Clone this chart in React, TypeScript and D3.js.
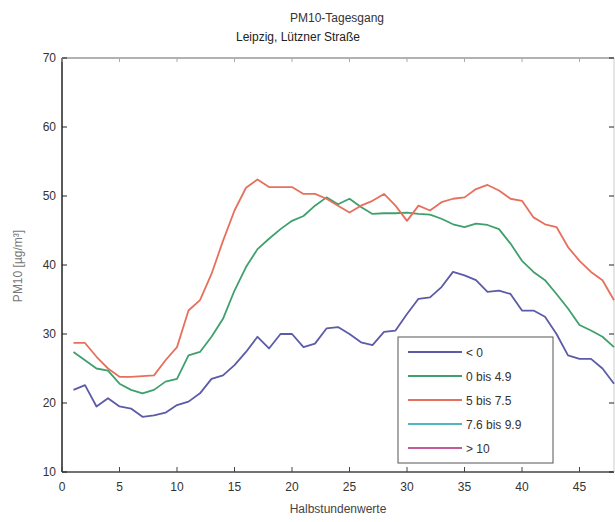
import React from "react";
import * as d3 from "d3";

const halfHours = d3.range(1, 49);
const seriesLt0 = [21.9,22.6,19.5,20.7,19.5,19.2,18.0,18.2,18.6,19.7,20.2,21.4,23.5,24.0,25.5,27.4,29.6,27.9,30.0,30.0,28.1,28.6,30.8,31.0,30.0,28.8,28.4,30.3,30.5,32.9,35.1,35.3,36.8,39.0,38.5,37.8,36.1,36.3,35.8,33.4,33.4,32.5,30.0,26.9,26.4,26.4,25.0,22.8];
const series0to49 = [27.4,26.2,25.0,24.7,22.8,21.9,21.4,21.9,23.1,23.5,26.9,27.4,29.6,32.2,36.3,39.7,42.3,43.8,45.2,46.4,47.1,48.6,49.8,48.8,49.6,48.4,47.4,47.5,47.5,47.6,47.4,47.3,46.7,45.9,45.5,46.0,45.8,45.2,43.1,40.6,39.0,37.8,35.8,33.7,31.3,30.5,29.6,28.1];
const series5to75 = [28.7,28.7,26.7,25.0,23.8,23.8,23.9,24.0,26.2,28.1,33.4,34.9,38.7,43.5,47.9,51.2,52.4,51.3,51.3,51.3,50.3,50.3,49.6,48.6,47.6,48.6,49.3,50.3,48.6,46.4,48.6,47.9,49.1,49.6,49.8,51.0,51.6,50.8,49.6,49.3,46.9,45.9,45.5,42.6,40.6,39.0,37.8,34.9];

const legendLabels = ["< 0", "0 bis 4.9", "5 bis 7.5", "7.6 bis 9.9", "> 10"];
const legendColors = ["#5b5ba8", "#3fa06e", "#e6705e", "#4fb5c0", "#c25a9e"];
const xTicks = [0, 5, 10, 15, 20, 25, 30, 35, 40, 45];
const yTicks = [10, 20, 30, 40, 50, 60, 70];

const W = 615, H = 522;
const L = 62, R = 614, T = 58, B = 472;

export default function App() {
  const x = d3.scaleLinear().domain([0, 48]).range([L, R]);
  const y = d3.scaleLinear().domain([10, 70]).range([B, T]);
  const line = d3.line<number>().x((_, i) => x(halfHours[i])).y((d) => y(d));
  const series = [seriesLt0, series0to49, series5to75];
  const font = "'Liberation Sans', Arial, sans-serif";
  return (
    <svg width={W} height={H} style={{ position: "absolute", left: 0, top: 0, background: "#fff" }} fontFamily={font}>
      <rect x={0} y={0} width={W} height={H} fill="#fff" />
      <text x={337} y={22} textAnchor="middle" fontSize={12} fill="#333">PM10-Tagesgang</text>
      <text x={298} y={41} textAnchor="middle" fontSize={12} fill="#222">Leipzig, Lützner Straße</text>
      {/* plot frame */}
      <line x1={L} y1={T} x2={R} y2={T} stroke="#666" strokeWidth={1.2} />
      <line x1={L} y1={B} x2={R} y2={B} stroke="#444" strokeWidth={1.5} />
      <line x1={L} y1={T} x2={L} y2={B} stroke="#222" strokeWidth={1.5} />
      <line x1={R} y1={T} x2={R} y2={B} stroke="#ccc" strokeWidth={1} />
      {yTicks.map((t) => (
        <g key={"y" + t}>
          <line x1={L} x2={L + 5} y1={y(t)} y2={y(t)} stroke="#222" />
          <line x1={R - 5} x2={R} y1={y(t)} y2={y(t)} stroke="#222" />
          <text x={L - 6} y={y(t) + 4} textAnchor="end" fontSize={12} fill="#333">{t}</text>
        </g>
      ))}
      {xTicks.map((t) => (
        <g key={"x" + t}>
          <line x1={x(t)} x2={x(t)} y1={B} y2={B - 5} stroke="#444" />
          <line x1={x(t)} x2={x(t)} y1={T} y2={T + 4} stroke="#aaa" />
          <text x={x(t)} y={B + 19} textAnchor="middle" fontSize={12} fill="#333">{t}</text>
        </g>
      ))}
      <text x={338} y={513} textAnchor="middle" fontSize={12} fill="#444">Halbstundenwerte</text>
      <text transform={`translate(22,266) rotate(-90)`} textAnchor="middle" fontSize={12} fill="#777">PM10 [µg/m³]</text>
      {series.map((s, i) => (
        <path key={i} d={line(s) || ""} fill="none" stroke={legendColors[i]} strokeWidth={1.8} strokeLinejoin="round" />
      ))}
      {/* legend */}
      <rect x={398} y={337} width={155} height={126} fill="#fff" stroke="#555" strokeWidth={1} />
      {legendLabels.map((lab, i) => {
        const ly = 352 + i * 24;
        return (
          <g key={lab}>
            <line x1={408} x2={462} y1={ly} y2={ly} stroke={legendColors[i]} strokeWidth={2} />
            <text x={466} y={ly + 4.5} fontSize={12} fill="#333">{lab}</text>
          </g>
        );
      })}
    </svg>
  );
}
